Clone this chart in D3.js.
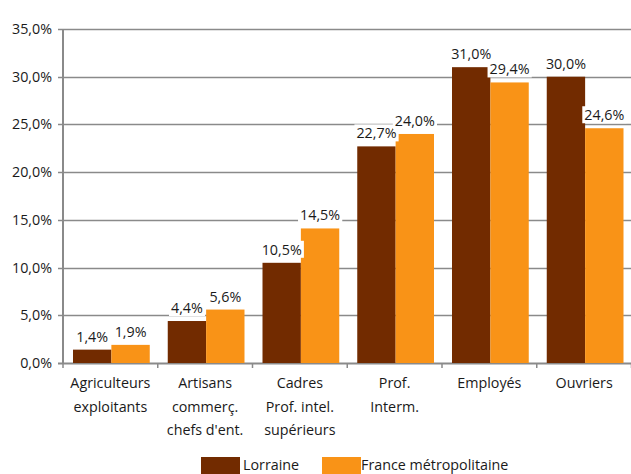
<!doctype html>
<html lang="fr">
<head>
  <meta charset="UTF-8">
  <title>Lorraine / France</title>
  <script src="https://cdn.jsdelivr.net/npm/d3@7"></script>
  <style>
    body { margin: 0; background: #fff; }
    text { font-family: "Open Sans", sans-serif; fill: #1a1a1a; }
  </style>
</head>
<body>
<div id="chart"></div>
<script>
var categories = [
  ['Agriculteurs', 'exploitants'],
  ['Artisans', 'commerç.', "chefs d'ent."],
  ['Cadres', 'Prof. intel.', 'supérieurs'],
  ['Prof.', 'Interm.'],
  ['Employés'],
  ['Ouvriers']
];
var seriesNames = ['Lorraine', 'France métropolitaine'];
var lorraine = [1.4, 4.4, 10.5, 22.7, 31.0, 30.0];
var france = [1.9, 5.6, 14.1, 24.0, 29.4, 24.6];
var lorraineLabels = ['1,4%', '4,4%', '10,5%', '22,7%', '31,0%', '30,0%'];
var franceLabels = ['1,9%', '5,6%', '14,5%', '24,0%', '29,4%', '24,6%'];
var yTicks = [0, 5, 10, 15, 20, 25, 30, 35];
var colors = ['#722b00', '#f99317'];

var W = 631, H = 474;
var plotL = 63, plotR = 631, plotT = 29, plotB = 363;
var fs = '14.3px';

var svg = d3.select('#chart').append('svg')
  .attr('width', W)
  .attr('height', H);

var x = d3.scaleBand()
  .domain(d3.range(categories.length))
  .range([plotL, plotR + 0.5])
  .paddingInner(0)
  .paddingOuter(0);

var xInner = d3.scaleBand()
  .domain([0, 1])
  .range([10, x.bandwidth() - 8]);

var y = d3.scaleLinear()
  .domain([0, 35])
  .range([plotB, plotT]);

// gridlines + y labels
svg.selectAll('.grid').data(yTicks).enter()
  .append('line')
  .attr('class', 'grid')
  .attr('x1', plotL - 5)
  .attr('x2', W)
  .attr('y1', function(d) { return Math.round(y(d)) + 0.5; })
  .attr('y2', function(d) { return Math.round(y(d)) + 0.5; })
  .attr('stroke', '#8a8a8a')
  .attr('stroke-width', function(d) { return d == 0 ? 2 : 1.5; });

svg.selectAll('.ylab').data(yTicks).enter()
  .append('text')
  .attr('class', 'ylab')
  .attr('x', 52)
  .attr('y', function(d) { return y(d); })
  .attr('dy', '0.35em')
  .attr('text-anchor', 'end')
  .style('font-size', fs)
  .text(function(d) { return d3.format('.1f')(d).replace('.', ',') + '%'; });

// y axis line
svg.append('line')
  .attr('x1', plotL).attr('x2', plotL)
  .attr('y1', plotT).attr('y2', plotB + 1)
  .attr('stroke', '#8a8a8a')
  .attr('stroke-width', 2);

// category ticks
svg.selectAll('.xtick').data(d3.range(categories.length + 1)).enter()
  .append('line')
  .attr('class', 'xtick')
  .attr('x1', function(i) { return plotL + i * x.bandwidth(); })
  .attr('x2', function(i) { return plotL + i * x.bandwidth(); })
  .attr('y1', plotB)
  .attr('y2', plotB + 5)
  .attr('stroke', '#8a8a8a')
  .attr('stroke-width', 1.5);

// bars
var series = [lorraine, france];
var seriesLabels = [lorraineLabels, franceLabels];

series.forEach(function(vals, s) {
  svg.selectAll('.bar' + s).data(vals).enter()
    .append('rect')
    .attr('class', 'bar' + s)
    .attr('x', function(d, i) { return x(i) + xInner(s); })
    .attr('y', function(d) { return y(d); })
    .attr('width', xInner.bandwidth())
    .attr('height', function(d) { return y(0) - y(d); })
    .attr('fill', colors[s]);
});

// value labels with white background
series.forEach(function(vals, s) {
  var g = svg.selectAll('.lab' + s).data(vals).enter()
    .append('g')
    .attr('class', 'lab' + s)
    .attr('transform', function(d, i) {
      return 'translate(' + (x(i) + xInner(s) + xInner.bandwidth() / 2) + ',' + (y(d) - 8) + ')';
    });
  g.append('text')
    .attr('text-anchor', 'middle')
    .style('font-size', fs)
    .text(function(d, i) { return seriesLabels[s][i]; });
  g.each(function() {
    var bb = d3.select(this).select('text').node().getBBox();
    d3.select(this).insert('rect', 'text')
      .attr('x', bb.x - 2)
      .attr('y', bb.y + 1)
      .attr('width', bb.width + 4)
      .attr('height', bb.height - 2)
      .attr('fill', '#fff');
  });
});

// category labels
categories.forEach(function(lines, i) {
  var cx = x(i) + x.bandwidth() / 2;
  var t = svg.append('text')
    .attr('text-anchor', 'middle')
    .style('font-size', fs)
    .attr('y', 383);
  lines.forEach(function(line, j) {
    t.append('tspan')
      .attr('x', cx)
      .attr('dy', j == 0 ? '0.35em' : 23.5)
      .text(line);
  });
});

// legend
var legX = [201, 322];
seriesNames.forEach(function(name, s) {
  svg.append('rect')
    .attr('x', legX[s])
    .attr('y', 457)
    .attr('width', 39)
    .attr('height', 17)
    .attr('fill', colors[s]);
  svg.append('text')
    .attr('x', legX[s] + 39 + (s == 0 ? 3 : 0))
    .attr('y', 470)
    .style('font-size', fs)
    .text(name);
});
</script>
</body>
</html>
